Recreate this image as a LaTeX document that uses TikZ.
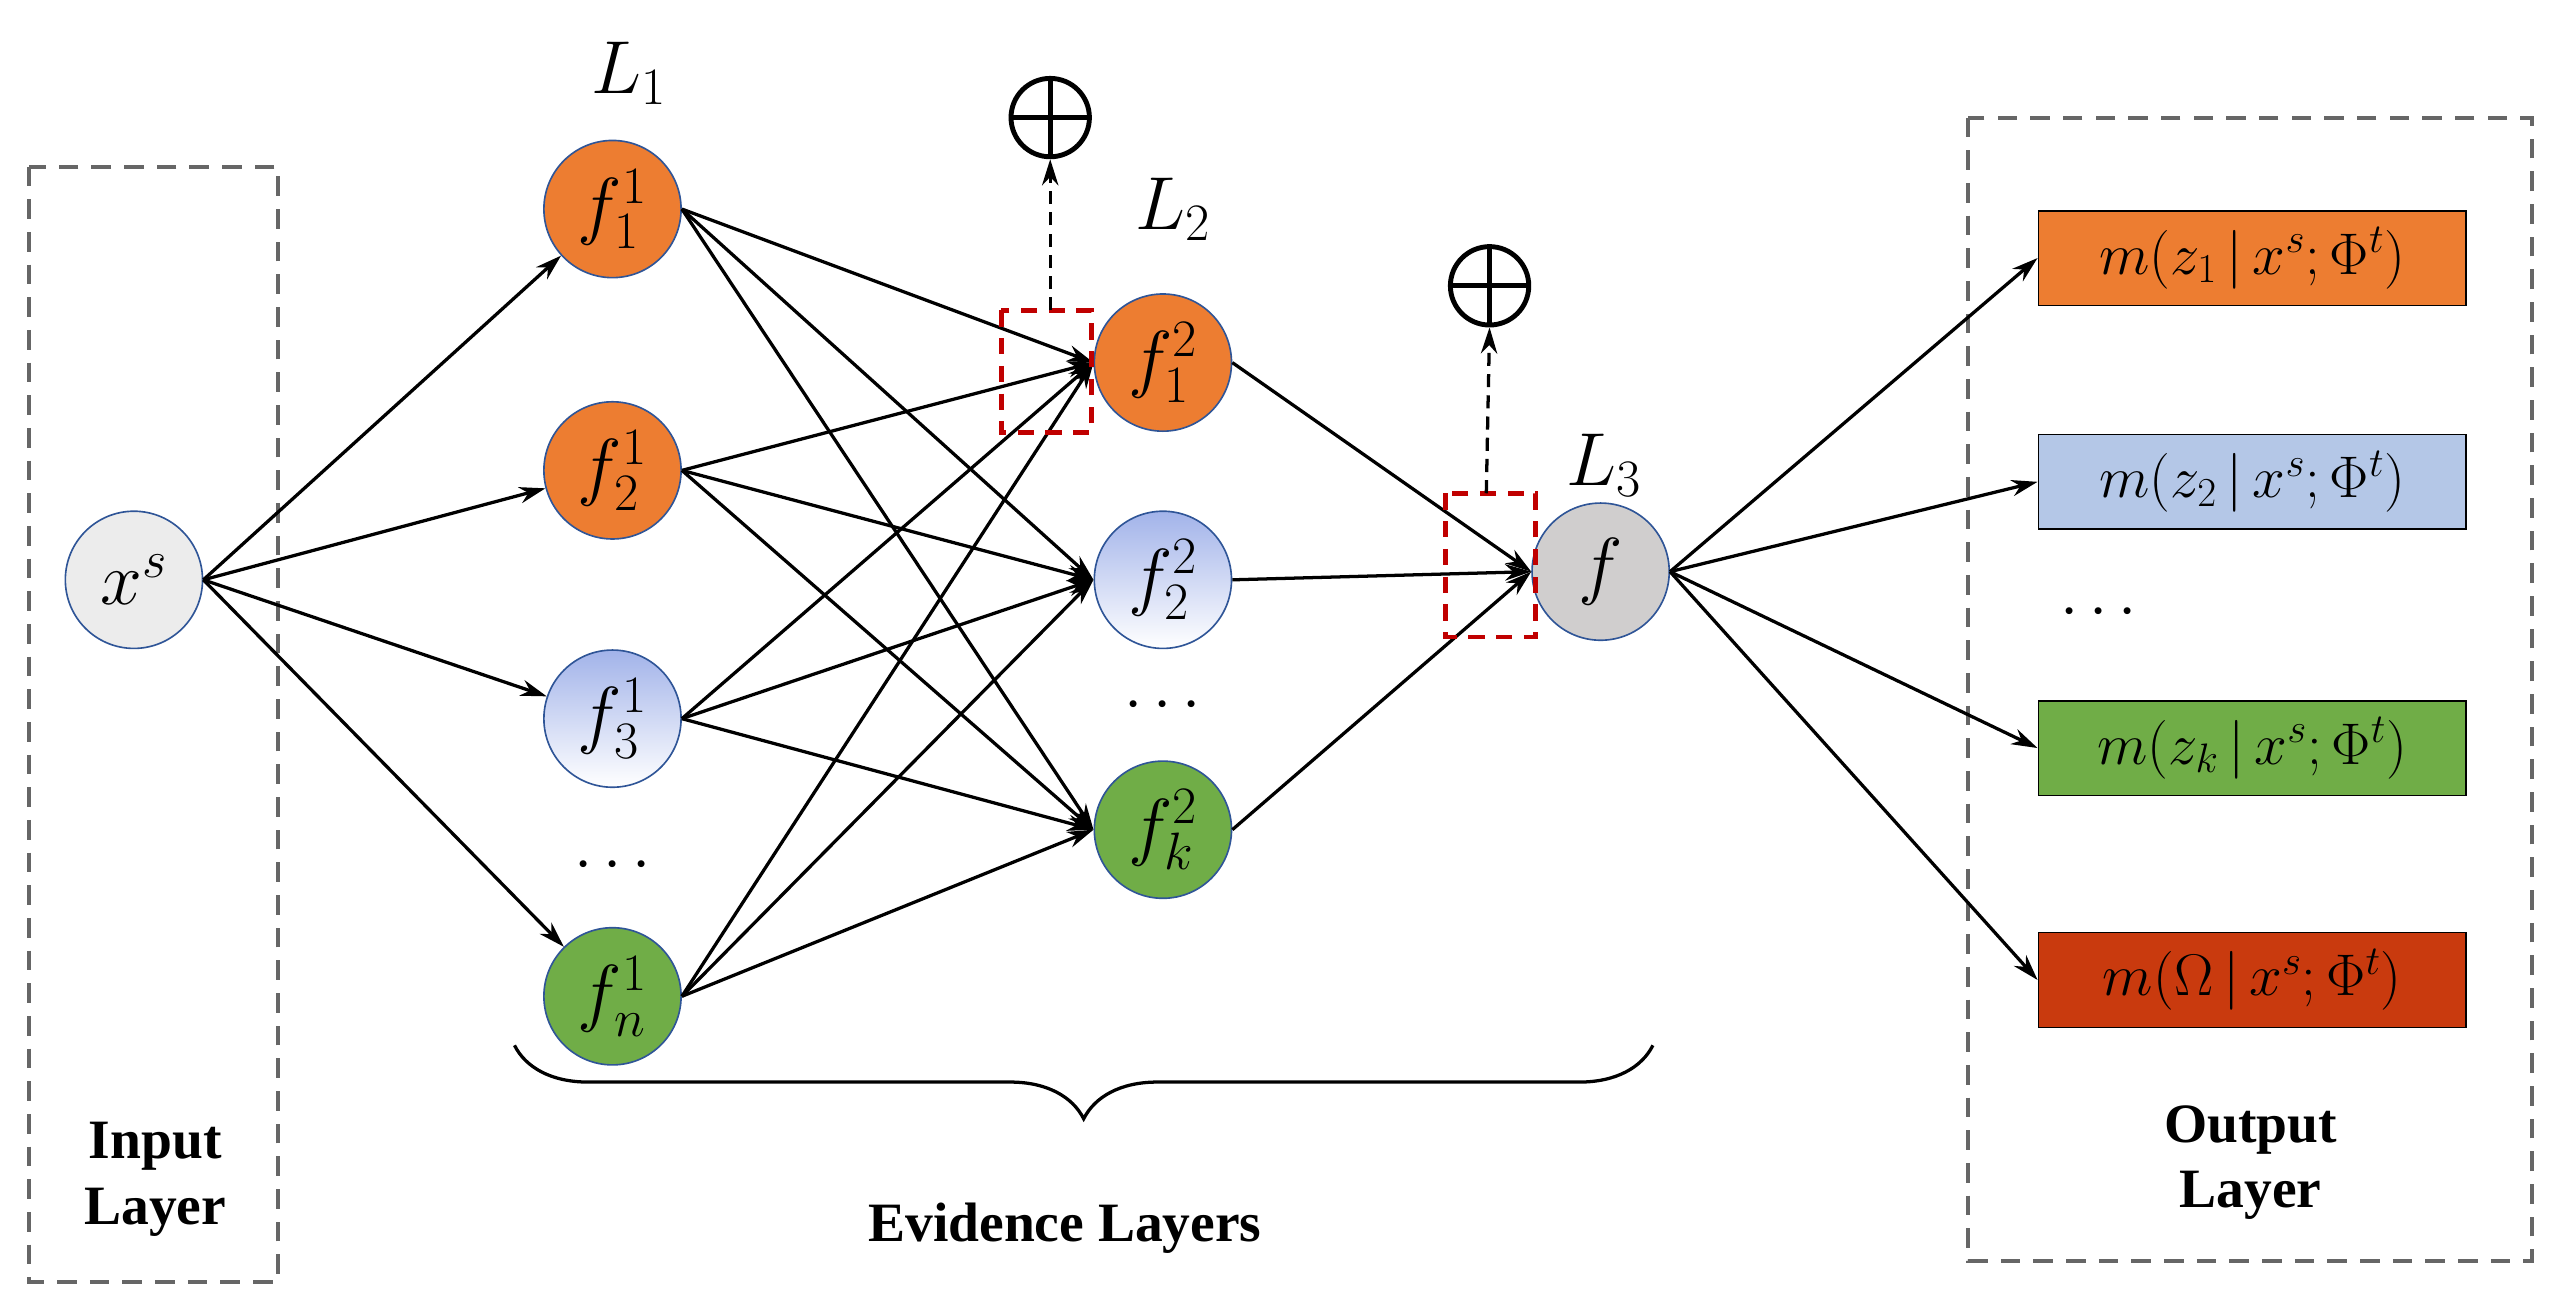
\RequirePackage{fix-cm}
\documentclass[tikz,border=0pt]{standalone}
\usepackage{fontspec}
\setmainfont{Liberation Serif}
\usetikzlibrary{arrows.meta,decorations.pathreplacing}
\definecolor{org}{HTML}{ED7D31}
\definecolor{blu}{HTML}{B4C7E7}
\definecolor{grn}{HTML}{70AD47}
\definecolor{gry}{HTML}{D0CECE}
\definecolor{rd}{HTML}{C00000}
\definecolor{omg}{HTML}{C93A0E}
\definecolor{edge}{HTML}{2F5597}
\begin{document}
\begin{tikzpicture}[x=1pt,y=-1pt,
 nd/.style={circle,draw=edge,line width=1pt,minimum size=84pt,inner sep=0pt,font=\fontsize{46}{50}\selectfont},
 o/.style={nd,fill=org}, b/.style={nd,top color=blu!90!blue,bottom color=white}, g/.style={nd,fill=grn},
 box/.style={draw=black,line width=1pt,minimum width=262pt,minimum height=58pt,inner sep=0pt,font=\fontsize{36}{40}\selectfont},
 ar/.style={-{Stealth[length=16pt,width=10pt]},line width=2pt},
 dbox/.style={draw=gray!80!black,dashed,line width=2.5pt,dash pattern=on 12pt off 8pt},
 rbox/.style={draw=rd,line width=3pt,dash pattern=on 10pt off 7pt},
 lab/.style={font=\bfseries\fontsize{34}{40}\selectfont,align=center}]
\useasboundingbox (0,0) rectangle (1568,802);
\draw[dbox] (18,102) rectangle (170,785);
\draw[dbox] (1205,72) rectangle (1550,772);
\node[nd,fill=gray!15] (x) at (82,355) {$x^s$};
\node[o] (a1) at (375,128) {$f^1_1$};
\node[o] (a2) at (375,288) {$f^1_2$};
\node[b] (a3) at (375,440) {$f^1_3$};
\node[g] (a4) at (375,610) {$f^1_n$};
\node[o] (b1) at (712,222) {$f^2_1$};
\node[b] (b2) at (712,355) {$f^2_2$};
\node[g] (b3) at (712,508) {$f^2_k$};
\node[nd,fill=gry] (f) at (980,350) {$f$};
\node[box,fill=org] (m1) at (1379,158) {$m(z_1\,|\,x^s;\Phi^t)$};
\node[box,fill=blu] (m2) at (1379,295) {$m(z_2\,|\,x^s;\Phi^t)$};
\node[box,fill=grn] (m3) at (1379,458) {$m(z_k\,|\,x^s;\Phi^t)$};
\node[box,fill=omg] (m4) at (1379,600) {$m(\Omega\,|\,x^s;\Phi^t)$};
\foreach \a in {a1,a2,a3,a4} \draw[ar] (x.east) -- (\a);
\foreach \a in {a1,a2,a3,a4} \foreach \b in {b1,b2,b3} \draw[ar] (\a.east) -- (\b.west);
\foreach \b in {b1,b2,b3} \draw[ar] (\b.east) -- (f.west);
\foreach \m in {m1,m2,m3,m4} \draw[ar] (f.east) -- (\m.west);
\node[font=\fontsize{46}{50}\selectfont] (l1) at (385,45) {$L_1$};
\node[font=\fontsize{46}{50}\selectfont] (l2) at (718,128) {$L_2$};
\node[font=\fontsize{46}{50}\selectfont] (l3) at (982,285) {$L_3$};
\draw[rbox] (613,190) rectangle (668,265);
\draw[rbox] (885,302) rectangle (940,390);
\node[circle,draw,line width=3pt,minimum size=48pt,inner sep=0pt] (p1) at (643,72) {};
\draw[line width=3pt] (p1.north)--(p1.south) (p1.west)--(p1.east);
\node[circle,draw,line width=3pt,minimum size=48pt,inner sep=0pt] (p2) at (912,175) {};
\draw[line width=3pt] (p2.north)--(p2.south) (p2.west)--(p2.east);
\coordinate (r1) at (643,190); \coordinate (r2) at (910,302);
\draw[ar,dash pattern=on 8pt off 5pt] (r1) -- (p1.south);
\draw[ar,dash pattern=on 8pt off 5pt] (r2) -- (p2.south);
\node[font=\fontsize{40}{44}\selectfont] (d1) at (375,530) {$\cdots$};
\node[font=\fontsize{40}{44}\selectfont] (d2) at (712,432) {$\cdots$};
\node[font=\fontsize{40}{44}\selectfont] (d3) at (1285,375) {$\cdots$};
\draw[decorate,decoration={brace,amplitude=45pt,mirror},line width=2pt] (315,640) -- (1012,640);
\node[lab] (el) at (652,752) {Evidence Layers};
\node[lab] (il) at (95,722) {Input\\Layer};
\node[lab] (ol) at (1378,712) {Output\\Layer};
\end{tikzpicture}
\end{document}
